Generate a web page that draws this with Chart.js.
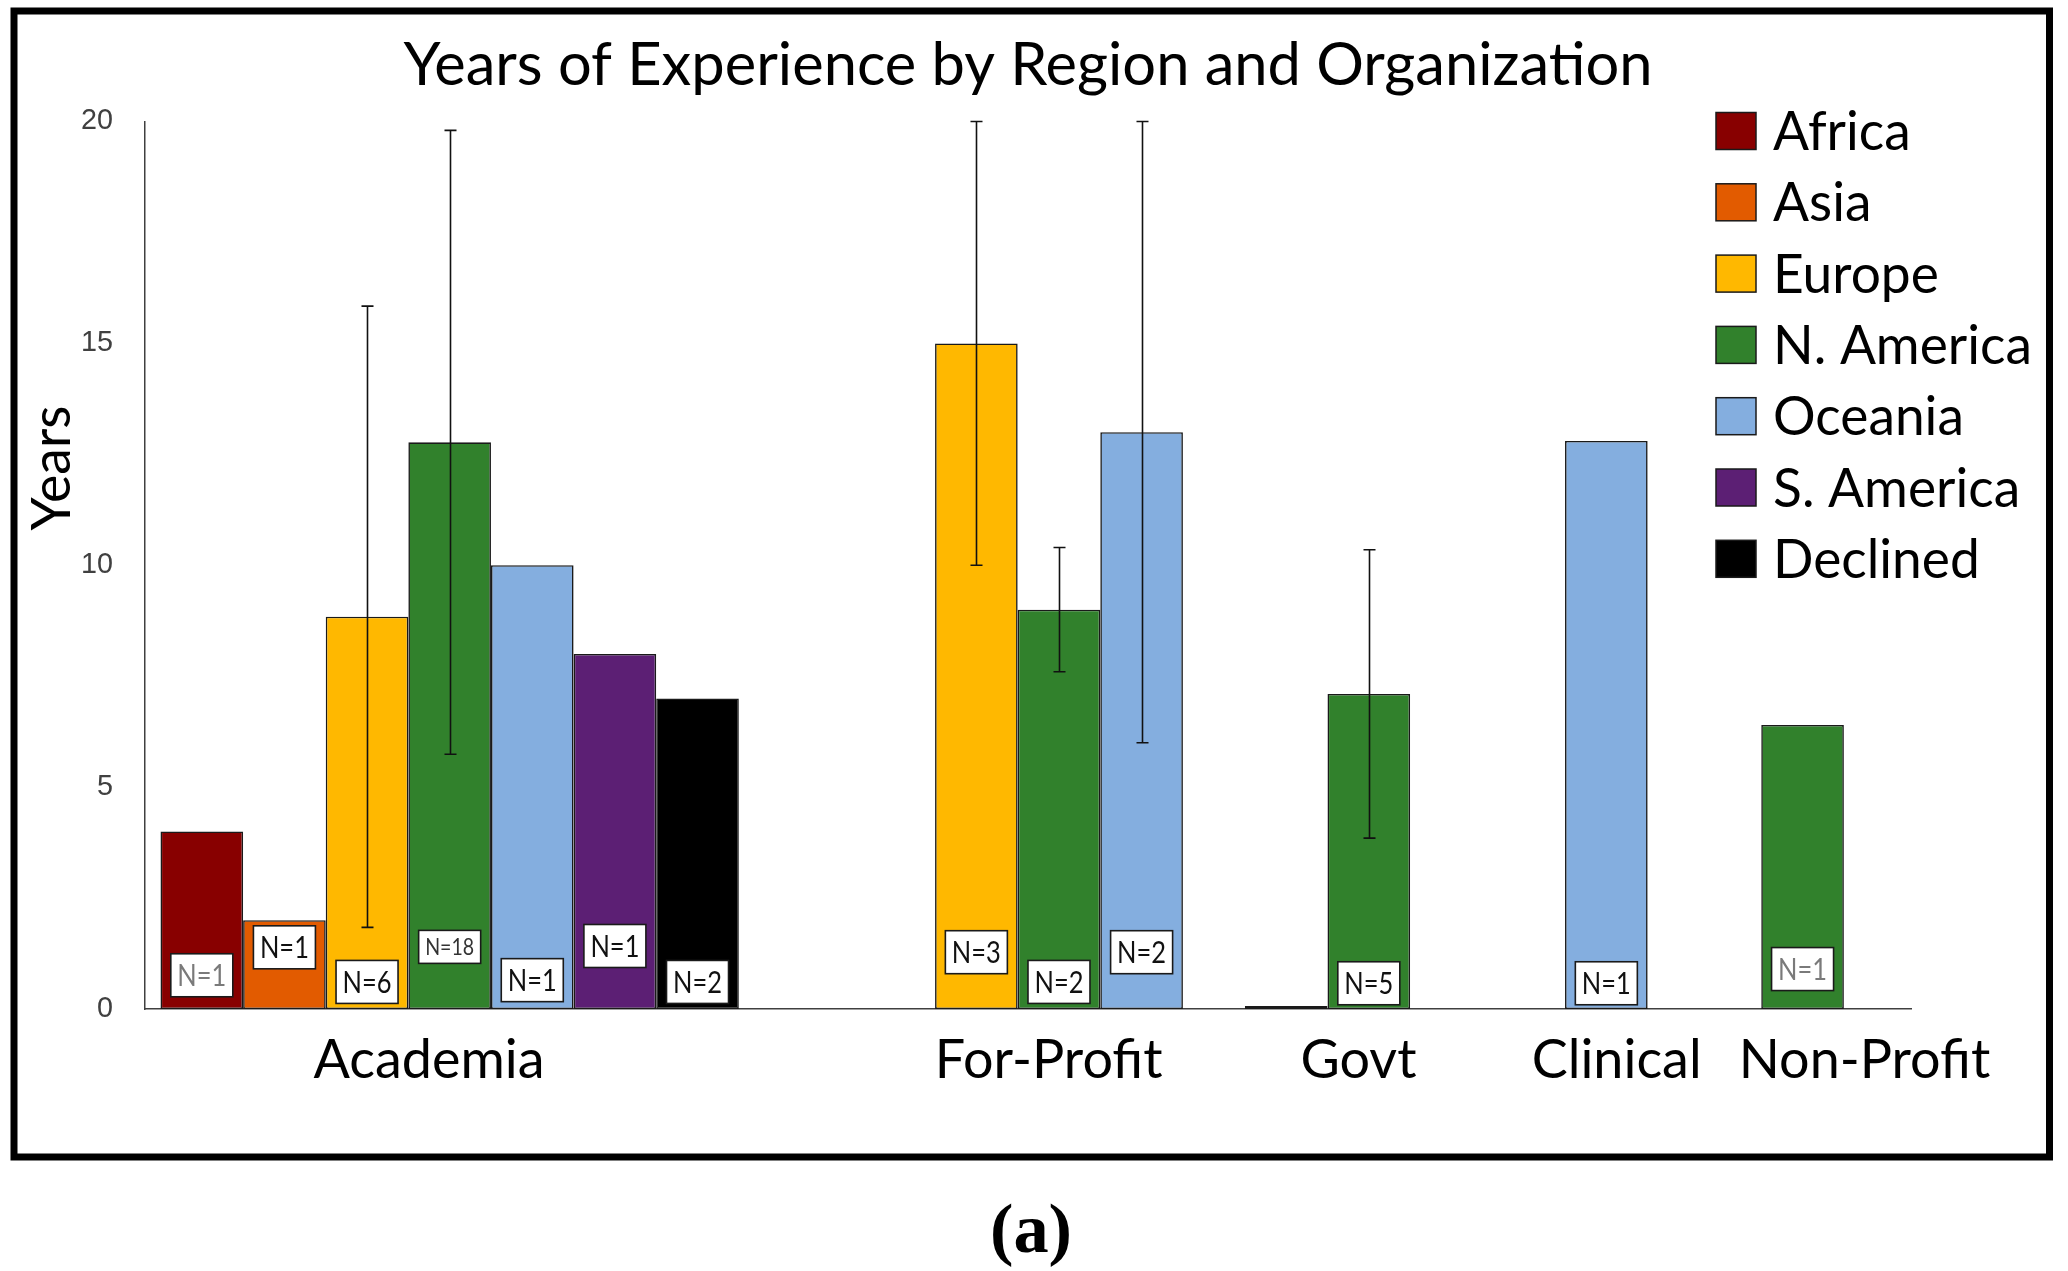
<!DOCTYPE html>
<html>
<head>
<meta charset="utf-8">
<script src="https://cdn.jsdelivr.net/npm/chart.js@4.4.1/dist/chart.umd.min.js"></script>
<style>
  html, body { margin: 0; padding: 0; background: #ffffff; }
  canvas { display: block; }
</style>
</head>
<body>
<canvas id="c" width="2068" height="1271"></canvas>
<script>
// ================= DATA =================
const categories = ['Academia', 'For-Profit', 'Govt', 'Clinical', 'Non-Profit'];
const regions = ['Africa', 'Asia', 'Europe', 'N. America', 'Oceania', 'S. America', 'Declined'];

// mean years of experience (null = no respondents)
const africa   = [4,     null, null, null, null];
const asia     = [2,     null, null, null, null];
const europe   = [8.84,  15,   0,    null, null];
const nAmerica = [12.77, 9,    7.1,  null, 6.4];
const oceania  = [10,    13,   null, 12.8, null];
const sAmerica = [8,     null, null, null, null];
const declined = [7,     null, null, null, null];

// standard deviation (error bars)
const europeSD   = [7.0,  5.0, null, null, null];
const nAmericaSD = [7.03, 1.4, 3.25, null, null];
const oceaniaSD  = [null, 7.0, null, null, null];

// respondents per bar
const africaN   = [1,  null, null, null, null];
const asiaN     = [1,  null, null, null, null];
const europeN   = [6,  3,    null, null, null];
const nAmericaN = [18, 2,    5,    null, 1];
const oceaniaN  = [1,  2,    null, 1,    null];
const sAmericaN = [1,  null, null, null, null];
const declinedN = [2,  null, null, null, null];

const yTicks = [0, 5, 10, 15, 20];

// ================= LAYOUT / STYLE =================
const colors = ['#880000', '#E25B00', '#FFB800', '#31812C', '#84AEDF', '#5C1F74', '#000000'];
const SLOTS = 171, SLOTS_PER_BAR = 8;
const groupStart = [5, 80, 110, 141, 160];
const labelSlot = [27, 87, 117, 142, 166];
// height (in years) of the centre of each "N=" box
const africaLift   = [0.76, null, null, null, null];
const asiaLift     = [1.39, null, null, null, null];
const europeLift   = [0.61, 1.28, null, null, null];
const nAmericaLift = [1.40, 0.61, 0.58, null, 0.90];
const oceaniaLift  = [0.65, 1.28, null, 0.58, null];
const sAmericaLift = [1.42, null, null, null, null];
const declinedLift = [0.61, null, null, null, null];
const mutedLabels = { 'Africa|Academia': true, 'N. America|Non-Profit': true };

const values = [africa, asia, europe, nAmerica, oceania, sAmerica, declined];
const sds = [null, null, europeSD, nAmericaSD, oceaniaSD, null, null];
const counts = [africaN, asiaN, europeN, nAmericaN, oceaniaN, sAmericaN, declinedN];
const lifts = [africaLift, asiaLift, europeLift, nAmericaLift, oceaniaLift, sAmericaLift, declinedLift];

// font fitting helper
const mctx = document.createElement('canvas').getContext('2d');
function measure(text, font) { mctx.font = font; return mctx.measureText(text).width; }
function fit(text, family, target) { return 100 * target / measure(text, '100px ' + family); }
const SANS = 'Lato, "Open Sans", sans-serif';
const titleText = 'Years of Experience by Region and Organization';
const tF = fit(titleText, SANS, 1249);
const xF = fit('Academia', SANS, 231);
const legF = fit('N. America', SANS, 259);
const yTitleF = fit('Years', SANS, 125);
const yTickF = fit('20', '"Liberation Sans"', 32);
const nF = 31;
const capF = fit('(a)', 'bold "Liberation Serif", serif', 86);

const CHART_TOP = 121.5, CHART_BOTTOM = 1009, CHART_LEFT = 145, CHART_RIGHT = 1911;
const PAD = { left: 20, right: 2068 - CHART_RIGHT, top: 12, bottom: 1271 - CHART_BOTTOM - 100 };
const tLH = tF * 1.2;
const tPadTop = 66 - PAD.top - tLH / 2;
const tPadBottom = CHART_TOP - PAD.top - tLH - tPadTop;
const xLH = xF * 1.2;
const xPad = 1061 - CHART_BOTTOM - xLH / 2;

// build slot-based datasets
const slotLabels = Array(SLOTS).fill('');
labelSlot.forEach((s, ci) => { slotLabels[s] = categories[ci]; });

const datasets = regions.map((r, ri) => ({
  label: r,
  data: Array(SLOTS).fill(null),
  sd: Array(SLOTS).fill(null),
  counts: Array(SLOTS).fill(null),
  lift: Array(SLOTS).fill(null),
  muted: Array(SLOTS).fill(false),
  backgroundColor: colors[ri]
}));
categories.forEach((c, ci) => {
  let k = 0;
  regions.forEach((r, ri) => {
    const v = values[ri][ci];
    if (v === null) return;
    const s = groupStart[ci] + SLOTS_PER_BAR * k;
    k++;
    const ds = datasets[ri];
    ds.data[s] = v;
    ds.sd[s] = sds[ri] ? sds[ri][ci] : null;
    ds.counts[s] = counts[ri][ci];
    ds.lift[s] = lifts[ri][ci];
    ds.muted[s] = !!mutedLabels[r + '|' + c];
  });
});

const deco = {
  id: 'deco',
  afterDatasetsDraw(chart) {
    const ctx = chart.ctx, y = chart.scales.y;
    ctx.save();
    // error bars
    chart.data.datasets.forEach((ds, di) => {
      const meta = chart.getDatasetMeta(di);
      ds.sd.forEach((sd, j) => {
        if (sd === null || ds.data[j] === null) return;
        const x = Math.round(meta.data[j].x) + 0.5;
        const v = ds.data[j];
        const yt = y.getPixelForValue(v + sd), yb = y.getPixelForValue(v - sd);
        ctx.strokeStyle = '#111111';
        ctx.lineWidth = 1.6;
        ctx.beginPath();
        ctx.moveTo(x, yt); ctx.lineTo(x, yb);
        ctx.moveTo(x - 6, yt); ctx.lineTo(x + 6, yt);
        ctx.moveTo(x - 6, yb); ctx.lineTo(x + 6, yb);
        ctx.stroke();
      });
    });
    // N= boxes
    chart.data.datasets.forEach((ds, di) => {
      const meta = chart.getDatasetMeta(di);
      ds.counts.forEach((n, j) => {
        if (n === null) return;
        const x = meta.data[j].x;
        const yc = y.getPixelForValue(ds.lift[j]);
        const txt = 'N=' + n;
        const small = String(n).length > 1;
        const w = 62, h = small ? 33 : 43;
        ctx.fillStyle = '#ffffff';
        ctx.fillRect(x - w / 2, yc - h / 2, w, h);
        ctx.strokeStyle = '#1a1a1a';
        ctx.lineWidth = 1.6;
        ctx.strokeRect(x - w / 2, yc - h / 2, w, h);
        const fs = small ? nF * 0.72 : nF;
        const font = fs + 'px ' + SANS;
        const tw = measure(txt, font);
        const sx = Math.min(1, 49 / tw);
        ctx.save();
        ctx.translate(x, yc + 1);
        ctx.scale(sx, 1);
        ctx.font = font;
        ctx.fillStyle = ds.muted[j] ? '#7a7a7a' : (small ? '#333333' : '#111111');
        ctx.textAlign = 'center';
        ctx.textBaseline = 'middle';
        ctx.fillText(txt, 0, 0);
        ctx.restore();
      });
    });
    ctx.restore();
  },
  afterDraw(chart) {
    const ctx = chart.ctx;
    ctx.save();
    // legend
    chart.data.datasets.forEach((ds, i) => {
      const top = 112.5 + i * 71.3;
      ctx.fillStyle = ds.backgroundColor;
      ctx.fillRect(1716, top, 40, 37);
      ctx.strokeStyle = '#1a1a1a';
      ctx.lineWidth = 1.5;
      ctx.strokeRect(1716, top, 40, 37);
      ctx.fillStyle = '#000000';
      ctx.font = legF + 'px ' + SANS;
      ctx.textAlign = 'left';
      ctx.textBaseline = 'alphabetic';
      ctx.fillText(ds.label, 1773, top + 37.5);
    });
    // y axis title
    ctx.save();
    ctx.translate(70, 468);
    ctx.rotate(-Math.PI / 2);
    ctx.font = yTitleF + 'px ' + SANS;
    ctx.fillStyle = '#000000';
    ctx.textAlign = 'center';
    ctx.textBaseline = 'alphabetic';
    ctx.fillText('Years', 0, 0);
    ctx.restore();
    // outer frame
    ctx.strokeStyle = '#000000';
    ctx.lineWidth = 7;
    ctx.strokeRect(14, 11, 2035.5, 1146);
    // panel caption
    ctx.font = 'bold ' + capF + 'px "Liberation Serif", serif';
    ctx.fillStyle = '#000000';
    ctx.textAlign = 'center';
    ctx.textBaseline = 'alphabetic';
    ctx.fillText('(a)', 1031, 1252);
    ctx.restore();
  }
};

new Chart(document.getElementById('c'), {
  type: 'bar',
  data: { labels: slotLabels, datasets },
  options: {
    responsive: false,
    animation: false,
    devicePixelRatio: 1,
    layout: { padding: PAD },
    datasets: {
      bar: {
        grouped: false,
        categoryPercentage: 1,
        barPercentage: SLOTS_PER_BAR,
        borderWidth: 1.6,
        borderColor: '#1a1a1a',
        borderSkipped: false,
        minBarLength: 3
      }
    },
    scales: {
      x: {
        type: 'category',
        offset: true,
        grid: { display: false, drawTicks: false },
        border: { display: true, color: '#404040', width: 1.5 },
        ticks: {
          autoSkip: false, maxRotation: 0, minRotation: 0,
          padding: xPad, color: '#000000',
          font: { family: SANS, size: xF, lineHeight: 1.2 }
        },
        afterFit: s => { s.height = 100; }
      },
      y: {
        min: 0, max: 20,
        afterBuildTicks: axis => { axis.ticks = yTicks.map(v => ({ value: v })); },
        grid: { display: false, drawTicks: false },
        border: { display: true, color: '#404040', width: 1.5 },
        ticks: {
          padding: 32, color: '#404040',
          font: { family: '"Liberation Sans", sans-serif', size: yTickF }
        },
        afterFit: s => { s.width = CHART_LEFT - PAD.left; }
      }
    },
    plugins: {
      legend: { display: false },
      tooltip: { enabled: false },
      title: {
        display: true,
        text: titleText,
        fullSize: false,
        color: '#000000',
        font: { family: SANS, size: tF, weight: 'normal', lineHeight: 1.2 },
        padding: { top: tPadTop, bottom: tPadBottom }
      }
    }
  },
  plugins: [deco]
});
</script>
</body>
</html>
